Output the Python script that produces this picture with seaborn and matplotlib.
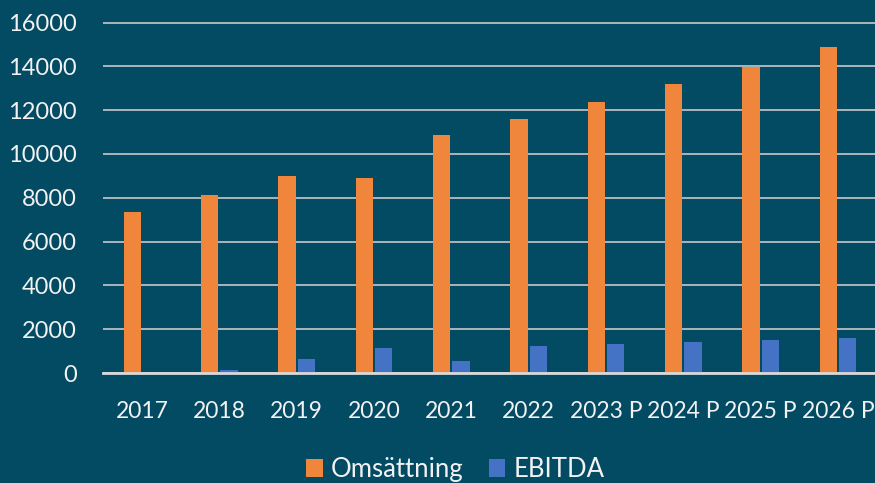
import pandas as pd
import matplotlib.pyplot as plt
import seaborn as sns

years = ["2017", "2018", "2019", "2020", "2021", "2022",
         "2023 P", "2024 P", "2025 P", "2026 P"]
omsattning = [7350, 8120, 8990, 8900, 10860, 11590, 12370, 13180, 13980, 14870]
ebitda = [0, 140, 625, 1155, 560, 1230, 1320, 1415, 1505, 1595]
series = ["Omsättning", "EBITDA"]

bg = "#034A63"
orange = "#F0853C"
blue = "#4472C4"
txt = "#F2F2F2"

df = pd.DataFrame({
    "year": years * 2,
    "value": omsattning + ebitda,
    "serie": [series[0]] * len(years) + [series[1]] * len(years),
})

sns.set_theme(style="white")
plt.rcParams["font.family"] = ["Lato", "DejaVu Sans"]

fig = plt.figure(figsize=(8.75, 4.83), dpi=100, facecolor=bg)
# axes: left edge at 103 px, runs a little past right edge, 0 at y=373 px
ax = fig.add_axes([103.3 / 875, 110 / 483, 773.4 / 875, 357 / 483])
ax.set_facecolor(bg)

sns.barplot(data=df, x="year", y="value", hue="serie",
            palette=[orange, blue], width=0.5, gap=0.1,
            saturation=1, linewidth=0, ax=ax)

ax.set_xlim(-0.5, 9.5)
ax.set_ylim(0, 16300)
ax.set_yticks(range(0, 16001, 2000))
ax.yaxis.grid(True, color="#C8C8C8", linewidth=1.2)
ax.set_axisbelow(True)
for s in ["top", "right", "left"]:
    ax.spines[s].set_visible(False)
ax.spines["bottom"].set_color("#D9D9D9")
ax.spines["bottom"].set_linewidth(2)
ax.tick_params(axis="y", length=0, pad=19, labelsize=17, labelcolor=txt)
ax.tick_params(axis="x", length=0, pad=20, labelsize=16.5, labelcolor=txt)
ax.set_xlabel("")
ax.set_ylabel("")

handles, labels = ax.get_legend_handles_labels()
ax.get_legend().remove()
fig.legend(handles, labels, loc="center", bbox_to_anchor=(0.52, 0.027),
           ncol=2, frameon=False, fontsize=18.5, labelcolor=txt,
           handlelength=0.65, handleheight=0.7, handletextpad=0.3,
           columnspacing=1.0)

fig.savefig("out.png", dpi=100, facecolor=bg)
